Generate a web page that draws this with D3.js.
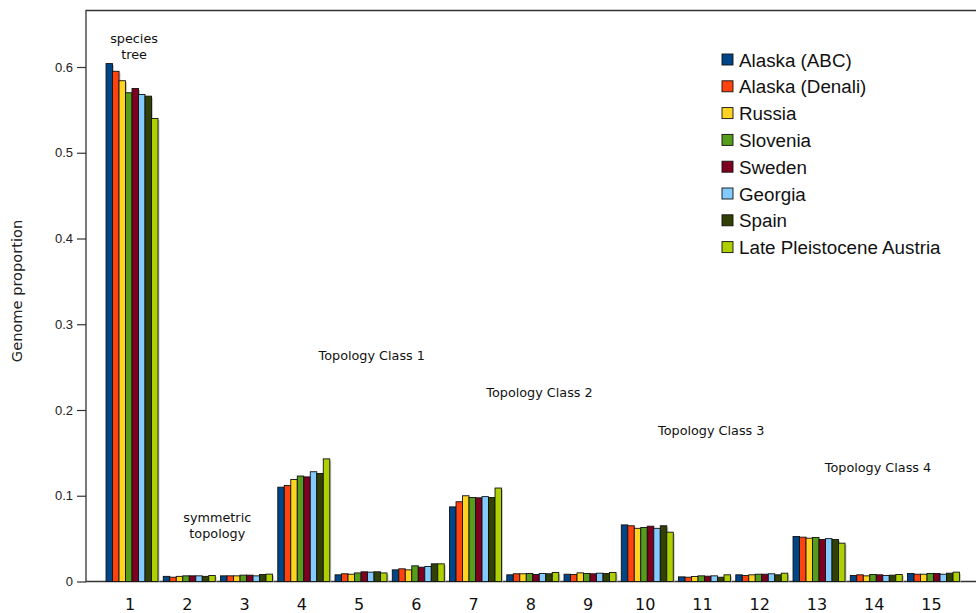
<!DOCTYPE html>
<html><head><meta charset="utf-8">
<script src="https://cdn.jsdelivr.net/npm/d3@7"></script>
<style>html,body{margin:0;padding:0;background:#fff;} svg{display:block;}</style>
</head><body>
<svg id="c" width="976" height="613"></svg>
<script>
const categories = ["1","2","3","4","5","6","7","8","9","10","11","12","13","14","15"];
const seriesNames = ["Alaska (ABC)","Alaska (Denali)","Russia","Slovenia","Sweden","Georgia","Spain","Late Pleistocene Austria"];
const seriesColors = ["#004586","#ff420e","#ffd320","#579d1c","#7e0021","#83caff","#314004","#aecf00"];
const alaskaABC    = [0.604,0.006,0.0066,0.110,0.0078,0.0136,0.087,0.0078,0.0085,0.066,0.0054,0.0078,0.0525,0.0070,0.0093];
const alaskaDenali = [0.595,0.005,0.0066,0.112,0.0090,0.0148,0.093,0.0090,0.0082,0.065,0.0050,0.0070,0.0517,0.0078,0.0085];
const russia       = [0.584,0.006,0.0066,0.119,0.0085,0.0136,0.100,0.0090,0.0101,0.062,0.0058,0.0078,0.0505,0.0066,0.0085];
const slovenia     = [0.570,0.0066,0.0074,0.123,0.0100,0.0183,0.098,0.0093,0.0093,0.063,0.0066,0.0085,0.0513,0.0082,0.0093];
const sweden       = [0.575,0.0066,0.0074,0.122,0.0113,0.0167,0.0976,0.0082,0.0090,0.0645,0.0062,0.0085,0.0490,0.0078,0.0093];
const georgia      = [0.568,0.0066,0.0066,0.128,0.0109,0.0175,0.099,0.0093,0.0097,0.062,0.0066,0.0090,0.0500,0.0070,0.0085];
const spain        = [0.566,0.006,0.0082,0.126,0.0113,0.0206,0.098,0.0090,0.0093,0.065,0.0050,0.0078,0.0490,0.0074,0.0097];
const austria      = [0.540,0.007,0.0086,0.143,0.0100,0.0206,0.109,0.0105,0.0105,0.0575,0.0078,0.0097,0.0447,0.0082,0.0109];
const seriesValues = [alaskaABC,alaskaDenali,russia,slovenia,sweden,georgia,spain,austria];
const yTicks = [0,0.1,0.2,0.3,0.4,0.5,0.6];
const yTickLabels = ["0","0.1","0.2","0.3","0.4","0.5","0.6"];
const annotations = [
  {lines:["species","tree"], cat:"1", dx:2, y:0.628},
  {lines:["symmetric","topology"], cat:"2", dx:28, y:0.0697},
  {lines:["Topology Class 1"], cat:"4", dx:68, y:0.2585},
  {lines:["Topology Class 2"], cat:"7", dx:64, y:0.215},
  {lines:["Topology Class 3"], cat:"10", dx:64, y:0.171},
  {lines:["Topology Class 4"], cat:"13", dx:59, y:0.128}
];

const svg = d3.select("#c");
const mLeft = 86, mTop = 10.5, mBottom = 581.5, mRight = 990;
const x = d3.scaleBand().domain(categories).range([103.4, 103.4 + 15*57.25]).paddingInner(0.092).paddingOuter(0.046);
const xs = d3.scaleBand().domain(seriesNames).range([0, x.bandwidth()]);
const y = d3.scaleLinear().domain([0,0.6]).range([mBottom, 67]);

// frame
svg.append("path").attr("d",`M${mRight},${mTop}H${mLeft}V${mBottom}H${mRight}`)
  .attr("fill","none").attr("stroke","#333").attr("stroke-width",1.3);

// bars
const g = svg.append("g");
seriesValues.forEach((vals,si)=>{
  g.selectAll(null).data(vals).enter().append("rect")
    .attr("x",(d,i)=>x(categories[i]) + xs(seriesNames[si]) + 1.5)
    .attr("y",d=>y(d)+1.5)
    .attr("width",xs.bandwidth())
    .attr("height",d=>mBottom-y(d)-1.5)
    .attr("fill","#c8c8c8");
});
seriesValues.forEach((vals,si)=>{
  g.selectAll(null).data(vals).enter().append("rect")
    .attr("x",(d,i)=>x(categories[i]) + xs(seriesNames[si]))
    .attr("y",d=>y(d))
    .attr("width",xs.bandwidth())
    .attr("height",d=>mBottom-y(d))
    .attr("fill",seriesColors[si])
    .attr("stroke","#111").attr("stroke-width",0.9);
});

// y axis
const yAxis = d3.axisLeft(y).tickValues(yTicks).tickFormat((d,i)=>yTickLabels[i]).tickSize(9).tickSizeOuter(0);
const ya = svg.append("g").attr("transform",`translate(${mLeft},0)`).call(yAxis);
ya.select(".domain").remove();
ya.selectAll("line").attr("stroke","#333").attr("stroke-width",1.2);
ya.selectAll("text").attr("font-family","Liberation Sans, Arial, sans-serif").attr("font-size",13).attr("fill","#222").attr("x",-13);

// x axis labels
const xAxis = d3.axisBottom(x).tickSize(0);
const xa = svg.append("g").attr("transform",`translate(-2,${mBottom})`).call(xAxis);
xa.select(".domain").remove();
xa.selectAll("text").attr("font-family","DejaVu Sans, sans-serif").attr("font-size",16).attr("fill","#111").attr("dy","0").attr("y",28.5);

// y title
svg.append("text").attr("transform",`translate(22,291) rotate(-90)`).attr("text-anchor","middle")
  .attr("font-family","DejaVu Sans, sans-serif").attr("font-size",14.6).attr("fill","#222").text("Genome proportion");

// annotations
annotations.forEach(a=>{
  const cx = x(a.cat) + x.bandwidth()/2 + a.dx;
  const t = svg.append("text").attr("text-anchor","middle").attr("font-family","DejaVu Sans, sans-serif")
    .attr("font-size",12.8).attr("fill","#111");
  a.lines.forEach((l,i)=>t.append("tspan").attr("x",cx).attr("y",y(a.y)+i*16).text(l));
});

// legend
const lg = svg.append("g").attr("transform","translate(722,0)");
seriesNames.forEach((n,i)=>{
  const yy = 60 + i*26.8;
  lg.append("rect").attr("x",0).attr("y",yy-6).attr("width",11).attr("height",11)
    .attr("fill",seriesColors[i]).attr("stroke","#111").attr("stroke-width",0.9);
  lg.append("text").attr("x",17).attr("y",yy+6.5).attr("font-family","Liberation Sans, Arial, sans-serif")
    .attr("font-size",18.8).attr("fill","#111").text(n);
});
</script>
</body></html>
